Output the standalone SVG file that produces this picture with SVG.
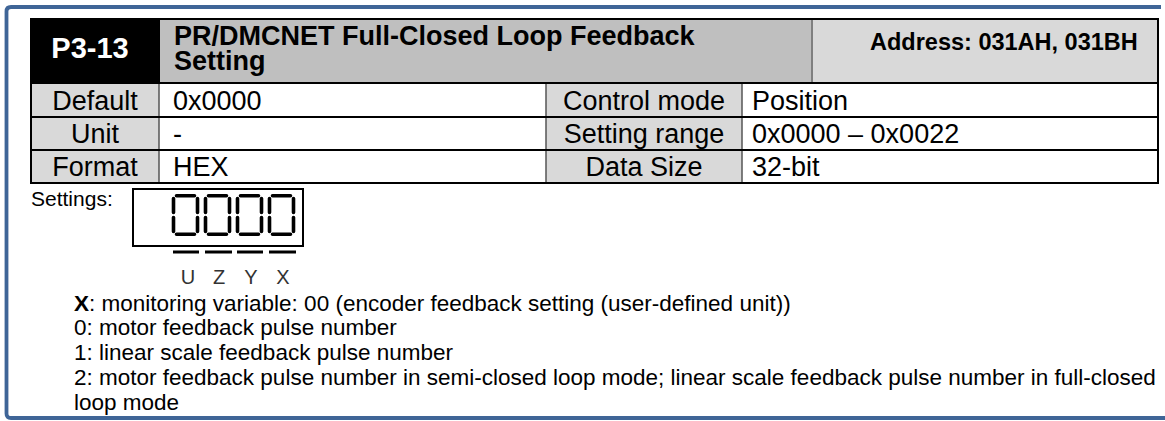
<svg xmlns="http://www.w3.org/2000/svg" width="1165" height="421" viewBox="0 0 1165 421">
<style>
  text { font-family: "Liberation Sans", Arial, sans-serif; fill: #000; }
  .cell { font-size: 27px; }
  .hdr { font-size: 27px; font-weight: bold; }
  .lbl { fill: #d9d9d9; }
  .val { fill: #ffffff; }
  .hline { stroke: #000; stroke-width: 2; }
  .vline { stroke: #555; stroke-width: 1.5; }
  .body { font-size: 22.5px; }
  .seg { fill: none; stroke: #000; stroke-width: 3.6; stroke-linecap: round; }
  .axis { font-size: 20px; fill: #333; }
</style>
<defs>
  <g id="digit0">
    <path class="seg" d="M4.5,1.8 H22.5 M25.5,4.5 V18.5 M25.5,23.5 V37.5 M4.5,40.2 H22.5 M1.5,23.5 V37.5 M1.5,4.5 V18.5"/>
  </g>
</defs>
<rect width="1165" height="421" fill="#ffffff"/>
<!-- blue frame -->
<g id="frame">
  <path d="M1161,7 H11 Q6.5,7 6.5,11.5 V413.5 Q6.5,418 11,418 H1165" fill="none" stroke="#3f6597" stroke-width="3.8"/>
</g>
<!-- header row -->
<g id="hdr-param">
  <rect x="31" y="19" width="129" height="64" fill="#000"/>
  <text x="90" y="58" class="hdr" style="fill:#fff;font-size:29px" text-anchor="middle">P3-13</text>
</g>
<g id="hdr-title">
  <rect x="160" y="19" width="652" height="64" fill="#bfbfbf"/>
  <text x="174" y="45" class="hdr">PR/DMCNET Full-Closed Loop Feedback</text>
  <text x="174" y="70" class="hdr">Setting</text>
</g>
<g id="hdr-address">
  <rect x="812" y="19" width="346" height="64" fill="#d9d9d9"/>
  <text x="870" y="50" class="hdr" style="font-size:23.5px">Address: 031AH, 031BH</text>
</g>
<!-- body rows -->
<g id="row-default">
  <rect x="31" y="83" width="128" height="34" class="lbl"/>
  <rect x="159" y="83" width="387" height="34" class="val"/>
  <rect x="546" y="83" width="196" height="34" class="lbl"/>
  <rect x="742" y="83" width="416" height="34" class="val"/>
  <text x="95" y="110" class="cell" text-anchor="middle">Default</text>
  <text x="173" y="110" class="cell">0x0000</text>
  <text x="644" y="110" class="cell" text-anchor="middle">Control mode</text>
  <text x="752" y="110" class="cell">Position</text>
</g>
<g id="row-unit">
  <rect x="31" y="117" width="128" height="33" class="lbl"/>
  <rect x="159" y="117" width="387" height="33" class="val"/>
  <rect x="546" y="117" width="196" height="33" class="lbl"/>
  <rect x="742" y="117" width="416" height="33" class="val"/>
  <text x="95" y="143" class="cell" text-anchor="middle">Unit</text>
  <text x="173" y="143" class="cell">-</text>
  <text x="644" y="143" class="cell" text-anchor="middle">Setting range</text>
  <text x="752" y="143" class="cell">0x0000 – 0x0022</text>
</g>
<g id="row-format">
  <rect x="31" y="150" width="128" height="33" class="lbl"/>
  <rect x="159" y="150" width="387" height="33" class="val"/>
  <rect x="546" y="150" width="196" height="33" class="lbl"/>
  <rect x="742" y="150" width="416" height="33" class="val"/>
  <text x="95" y="176" class="cell" text-anchor="middle">Format</text>
  <text x="173" y="176" class="cell">HEX</text>
  <text x="644" y="176" class="cell" text-anchor="middle">Data Size</text>
  <text x="752" y="176" class="cell">32-bit</text>
</g>
<!-- grid lines -->
<g id="grid">
  <line x1="812" y1="19" x2="812" y2="83" stroke="#7f7f7f" stroke-width="2"/>
  <line x1="159" y1="83" x2="159" y2="183" class="vline"/>
  <line x1="546" y1="83" x2="546" y2="183" class="vline"/>
  <line x1="742" y1="83" x2="742" y2="183" class="vline"/>
  <line x1="30" y1="19" x2="1159" y2="19" class="hline"/>
  <line x1="30" y1="83" x2="1159" y2="83" class="hline"/>
  <line x1="30" y1="117" x2="1159" y2="117" class="hline"/>
  <line x1="30" y1="150" x2="1159" y2="150" class="hline"/>
  <line x1="30" y1="183" x2="1159" y2="183" class="hline"/>
  <line x1="31" y1="19" x2="31" y2="183" class="hline"/>
  <line x1="1158" y1="19" x2="1158" y2="183" class="hline"/>
</g>
<!-- settings display -->
<g id="settings">
  <text x="31" y="206" style="font-size:21px">Settings:</text>
  <rect x="133" y="189" width="170" height="57" fill="none" stroke="#000" stroke-width="2"/>
  <use href="#digit0" x="172" y="194"/>
  <use href="#digit0" x="204" y="194"/>
  <use href="#digit0" x="236" y="194"/>
  <use href="#digit0" x="268" y="194"/>
  <g stroke="#000" stroke-width="3">
    <line x1="173" y1="252" x2="199" y2="252"/>
    <line x1="205" y1="252" x2="232" y2="252"/>
    <line x1="237" y1="252" x2="263" y2="252"/>
    <line x1="269" y1="252" x2="296" y2="252"/>
  </g>
  <text x="188" y="284" class="axis" text-anchor="middle">U</text>
  <text x="219" y="284" class="axis" text-anchor="middle">Z</text>
  <text x="251" y="284" class="axis" text-anchor="middle">Y</text>
  <text x="283" y="284" class="axis" text-anchor="middle">X</text>
</g>
<!-- description -->
<g id="description">
  <text x="74" y="310.5" class="body"><tspan font-weight="bold">X</tspan>: monitoring variable: 00 (encoder feedback setting (user-defined unit))</text>
  <text x="74" y="335.2" class="body">0: motor feedback pulse number</text>
  <text x="74" y="360" class="body">1: linear scale feedback pulse number</text>
  <text x="74" y="384.8" class="body">2: motor feedback pulse number in semi-closed loop mode; linear scale feedback pulse number in full-closed</text>
  <text x="74" y="409.5" class="body">loop mode</text>
</g>
</svg>
